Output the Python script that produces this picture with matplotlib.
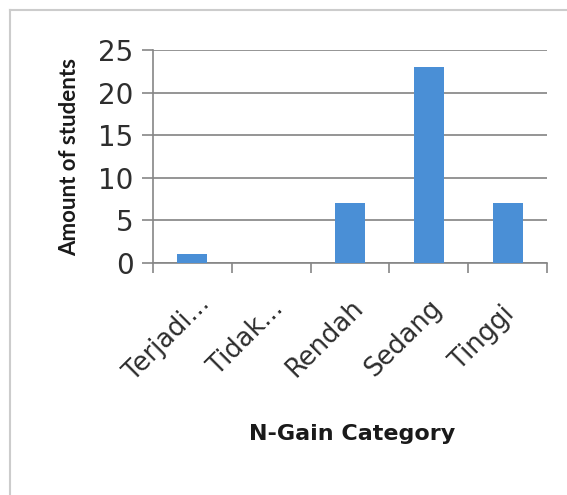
import matplotlib.pyplot as plt
from matplotlib.lines import Line2D
from matplotlib.transforms import ScaledTranslation

# data
categories = ['Terjadi...', 'Tidak...', 'Rendah', 'Sedang', 'Tinggi']
students = [1, 0, 7, 23, 7]
yticks = [0, 5, 10, 15, 20, 25]

W, H = 567, 495
fig = plt.figure(figsize=(W / 100, H / 100), dpi=100)
plt.rcParams['font.family'] = ['DejaVu Sans']

# outer frame: only top and left edges are visible
fx, fy = 10 / W, 1 - 10 / H
fig.lines.append(Line2D([fx, fx], [0, fy], transform=fig.transFigure, color='#cccccc', lw=1.5))
fig.lines.append(Line2D([fx, 1], [fy, fy], transform=fig.transFigure, color='#cccccc', lw=1.5))

ax = fig.add_axes([153 / W, 1 - 263 / H, (547 - 153) / W, (263 - 50) / H])
x = list(range(len(categories)))
ax.bar(x, students, width=0.38, color='#4a8fd6', zorder=3)

ax.set_xlim(-0.5, len(categories) - 0.5)
ax.set_ylim(0, 25)
ax.set_yticks(yticks)
# category boundaries carry the tick marks, labels are drawn at the centres
ax.set_xticks([i - 0.5 for i in range(len(categories) + 1)])
ax.set_xticklabels([])
ax.tick_params(axis='x', length=7, color='#868686', width=1.2)
ax.tick_params(axis='y', length=8, color='#868686', width=1.2, labelsize=20,
               labelcolor='#2e2e2e', pad=6)

# rotated category labels, centred below and a bit left of each category
off = ScaledTranslation(-25 / 100, -75 / 100, fig.dpi_scale_trans)
for i, name in zip(x, categories):
    ax.text(i, 0, name, transform=ax.get_xaxis_transform() + off, rotation=45,
            rotation_mode='anchor', ha='center', va='center', fontsize=18.5, color='#2e2e2e')

ax.grid(axis='y', color='#8c8c8c', linewidth=1.3, zorder=0)
for s in ['top', 'right']:
    ax.spines[s].set_visible(False)
for s in ['left', 'bottom']:
    ax.spines[s].set_color('#868686')
    ax.spines[s].set_linewidth(1.2)

ax.set_ylabel('Amount of students', fontsize=16, fontweight='bold', color='#1a1a1a',
              family=['Lato', 'DejaVu Sans'], labelpad=13)
ax.set_xlabel('N-Gain Category', fontsize=16, fontweight='bold', color='#1a1a1a', va='center')
ax.xaxis.set_label_coords((352 - 153) / 394, -(434 - 263) / 213)

fig.savefig('out.png', dpi=100, facecolor='white')
